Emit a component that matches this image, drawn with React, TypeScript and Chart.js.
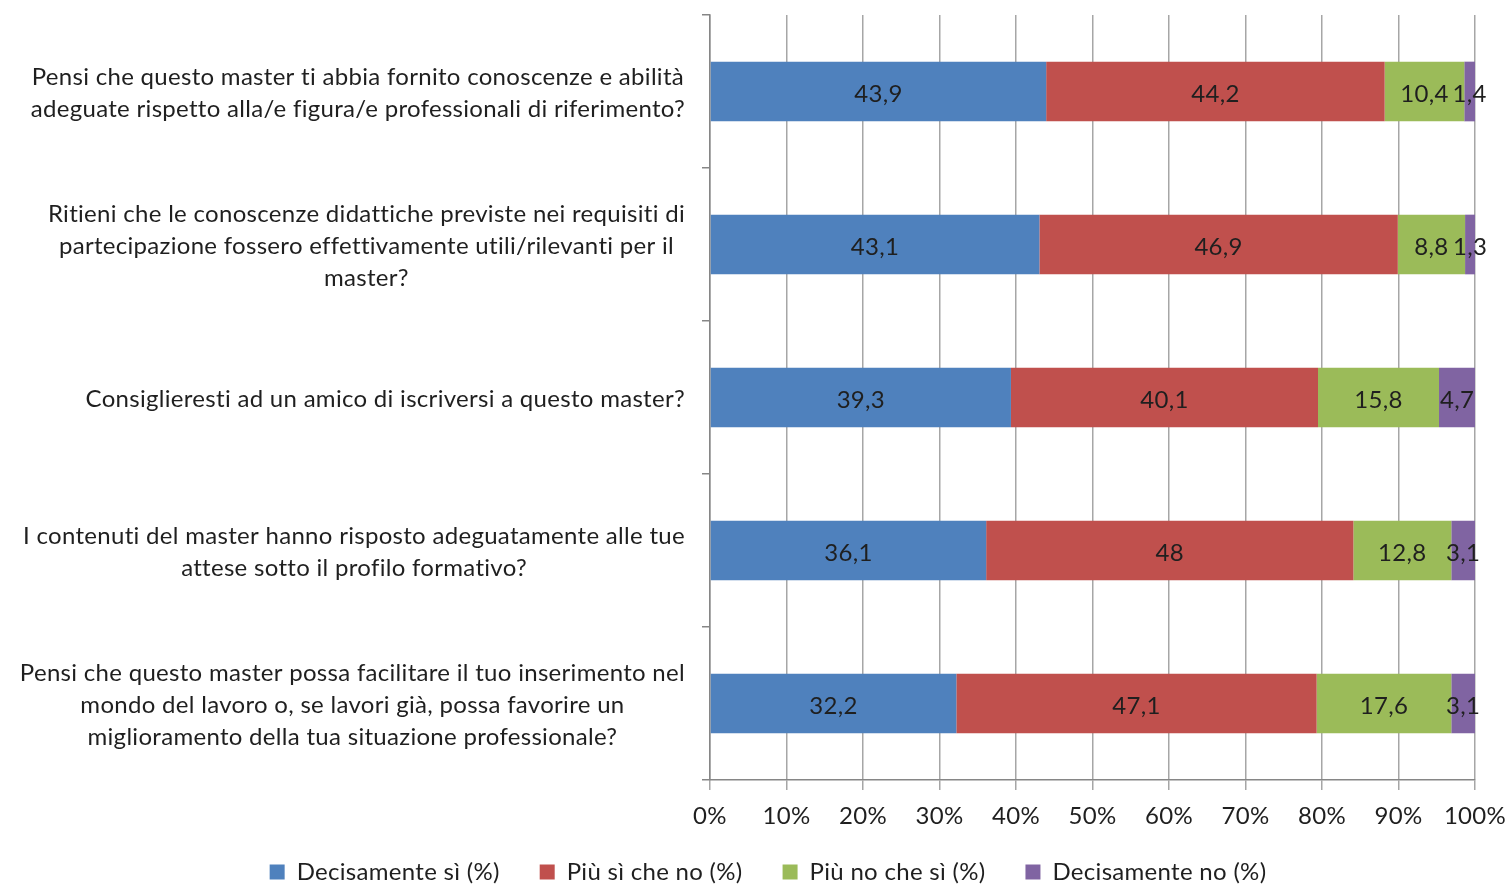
import React, { useEffect, useRef } from "react";
import { Chart, registerables } from "chart.js";

Chart.register(...registerables);

const categories: string[][] = [
  ["Pensi che questo master ti abbia fornito conoscenze e abilità", "adeguate rispetto alla/e figura/e professionali di riferimento?"],
  ["Ritieni che le conoscenze didattiche previste nei requisiti di", "partecipazione fossero effettivamente utili/rilevanti per il", "master?"],
  ["Consiglieresti ad un amico di iscriversi a questo master?"],
  ["I contenuti del master hanno risposto adeguatamente alle tue", "attese sotto il profilo formativo?"],
  ["Pensi che questo master possa facilitare il tuo inserimento nel", "mondo del lavoro o, se lavori già, possa favorire un", "miglioramento della tua situazione professionale?"],
];

const seriesNames = ["Decisamente sì (%)", "Più sì che no (%)", "Più no che sì (%)", "Decisamente no (%)"];
const decisamenteSi = [43.9, 43.1, 39.3, 36.1, 32.2];
const piuSiCheNo = [44.2, 46.9, 40.1, 48, 47.1];
const piuNoCheSi = [10.4, 8.8, 15.8, 12.8, 17.6];
const decisamenteNo = [1.4, 1.3, 4.7, 3.1, 3.1];
const xTicks = [0, 10, 20, 30, 40, 50, 60, 70, 80, 90, 100];

const colors = ["#4F81BD", "#C0504D", "#9BBB59", "#8064A2"];
const FONT = "Lato";
const FS = 24;
const LS = "0.3px";
const TEXT = "#1f1f1f";

export default function App() {
  const ref = useRef<HTMLCanvasElement | null>(null);
  useEffect(() => {
    if (!ref.current) return;
    const raw = [decisamenteSi, piuSiCheNo, piuNoCheSi, decisamenteNo];
    const totals = categories.map((_, i) => raw.reduce((s, a) => s + a[i], 0));

    const spacing = {
      id: "spacing",
      beforeUpdate(chart: any) {
        chart.ctx.letterSpacing = LS;
      },
      beforeDraw(chart: any) {
        chart.ctx.letterSpacing = LS;
      },
      afterLayout(chart: any) {
        const l = chart.legend;
        if (l) {
          l.top = 820;
          l.bottom = 885;
          l.height = 65;
        }
      },
    };

    const dataLabels = {
      id: "dataLabels",
      afterDatasetsDraw(chart: any) {
        const ctx = chart.ctx;
        ctx.save();
        ctx.font = `${FS}px "${FONT}"`;
        ctx.fillStyle = TEXT;
        ctx.textAlign = "center";
        ctx.textBaseline = "middle";
        chart.data.datasets.forEach((ds: any, di: number) => {
          const meta = chart.getDatasetMeta(di);
          meta.data.forEach((el: any, i: number) => {
            const v = ds.rawValues[i];
            const cx = (el.x + el.base) / 2;
            ctx.fillText(String(v).replace(".", ","), cx, el.y + 3);
          });
        });
        ctx.restore();
      },
    };

    const catLabels = {
      id: "catLabels",
      afterDraw(chart: any) {
        const ctx = chart.ctx;
        const y = chart.scales.y;
        ctx.save();
        ctx.font = `${FS}px "${FONT}"`;
        ctx.fillStyle = TEXT;
        ctx.textAlign = "center";
        ctx.textBaseline = "middle";
        const right = y.right - 25;
        const lh = 32;
        categories.forEach((lines, i) => {
          const w = Math.max(...lines.map((l) => ctx.measureText(l).width));
          const cx = right - w / 2;
          const cy = y.getPixelForValue(i);
          lines.forEach((l, k) => {
            ctx.fillText(l, cx, cy + 2 + (k - (lines.length - 1) / 2) * lh);
          });
        });
        ctx.restore();
      },
    };

    const chart = new Chart(ref.current, {
      type: "bar",
      data: {
        labels: categories.map((c) => c.join(" ")),
        datasets: raw.map((arr, k) => ({
          label: seriesNames[k],
          data: arr.map((v, i) => (v / totals[i]) * 100),
          rawValues: arr,
          backgroundColor: colors[k],
          borderWidth: 0,
          barPercentage: 0.39,
          categoryPercentage: 1,
        })) as any,
      },
      options: {
        indexAxis: "y",
        animation: false,
        responsive: false,
        layout: { padding: { top: 15, right: 33, bottom: 0, left: 61 } },
        plugins: {
          tooltip: { enabled: false },
          legend: {
            position: "bottom",
            maxHeight: 50,
            labels: {
              boxWidth: 15,
              boxHeight: 15,
              padding: 40,
              color: TEXT,
              font: { family: FONT, size: FS },
            },
          },
        },
        scales: {
          x: {
            stacked: true,
            min: 0,
            max: 100,
            afterBuildTicks: (s: any) => {
              s.ticks = xTicks.map((v) => ({ value: v }));
            },
            ticks: {
              callback: (v: any) => v + "%",
              color: TEXT,
              font: { family: FONT, size: FS },
              padding: 12,
              maxRotation: 0,
              autoSkip: false,
            },
            grid: { color: "#a6a6a6", lineWidth: 1.5, tickLength: 10 },
            border: { color: "#868686", width: 1.5 },
            afterFit: (s: any) => {
              s.height = 55;
              s.paddingLeft = 0;
              s.paddingRight = 0;
            },
          },
          y: {
            stacked: true,
            ticks: { display: false },
            grid: { offset: true, drawOnChartArea: false, tickLength: 8, color: "#868686", lineWidth: 1.5 },
            border: { color: "#868686", width: 1.5 },
            afterFit: (s: any) => {
              s.width = 649;
            },
          },
        },
      },
      plugins: [spacing, dataLabels, catLabels],
    });
    return () => chart.destroy();
  }, []);
  return (
    <div style={{ position: "fixed", left: 0, top: 0, width: 1508, height: 885, background: "#fff" }}>
      <canvas ref={ref} width={1508} height={885} style={{ display: "block" }} />
    </div>
  );
}
